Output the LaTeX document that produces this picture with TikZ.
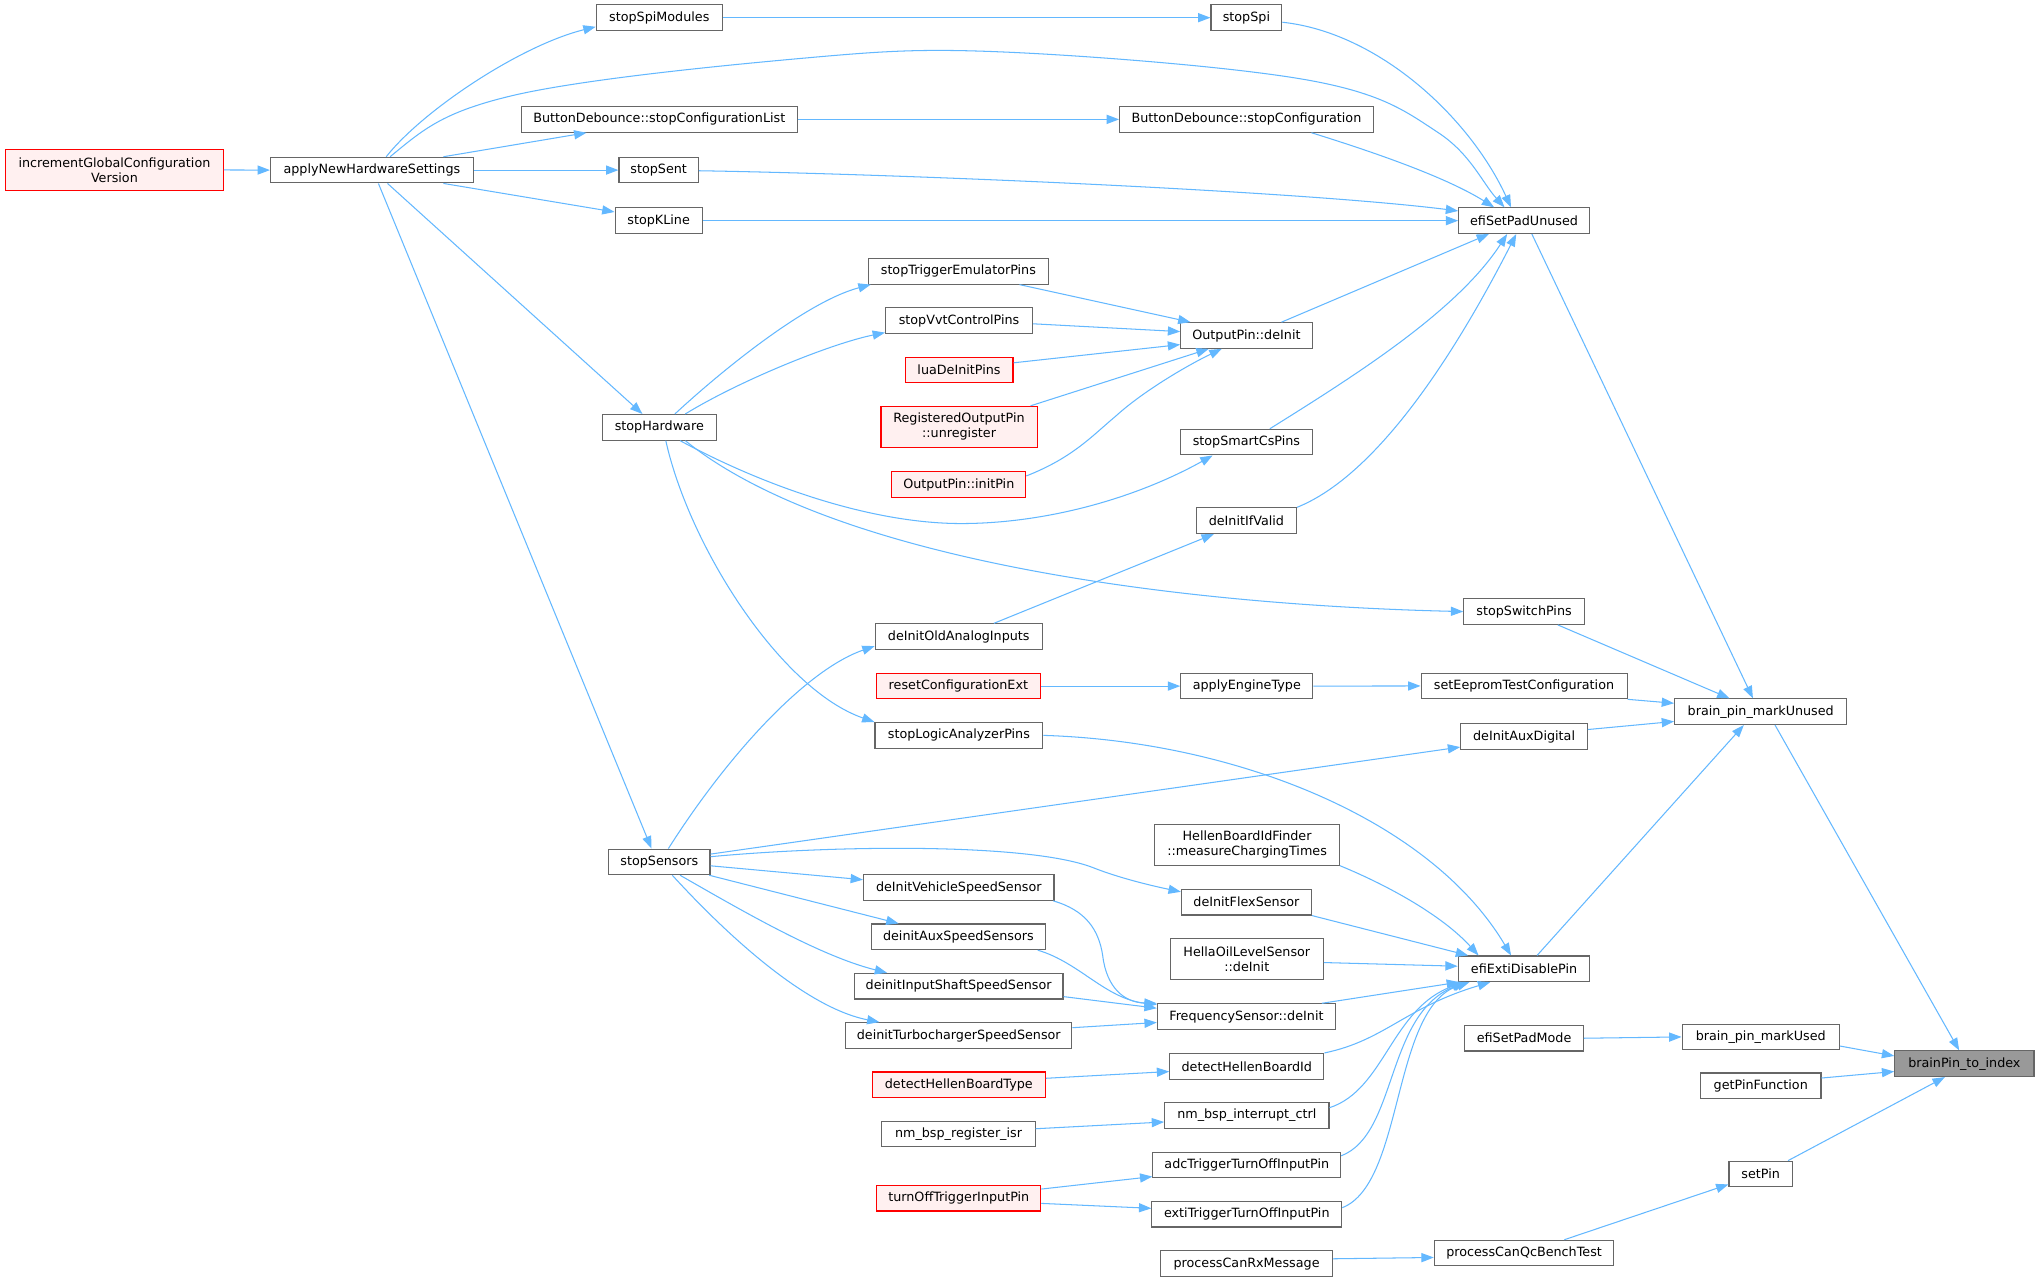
\documentclass[tikz,border=0pt]{standalone}
\usepackage{fontspec}
\setmainfont{DejaVu Sans}
\usetikzlibrary{arrows.meta,calc}
\definecolor{edgec}{HTML}{63B8FF}
\definecolor{ndb}{HTML}{666666}
\definecolor{rfill}{HTML}{FFF0F0}
\definecolor{curfill}{HTML}{999999}
\begin{document}
\begin{tikzpicture}[x=1pt,y=-1pt,
  nd/.style={draw=ndb, fill=white, line width=0.85pt, inner sep=0pt, minimum height=19.7pt,
    font=\fontsize{9.8}{11.3}\selectfont, align=center},
  rnd/.style={nd, draw=red, fill=rfill},
  cnd/.style={nd, fill=curfill},
  two/.style={minimum height=31.4pt},
  edg/.style={draw=edgec, line width=0.8pt, -{Triangle[length=9.5pt,width=7pt]}}]
\useasboundingbox (0,0) rectangle (1568,985);
\fill[white] (0,0) rectangle (1568,985);
% nodes
\node[rnd,two,minimum width=167.5pt] (ninc) at (88,130.7) {incrementGlobalConfiguration\\Version};
\node[nd,minimum width=156pt] (nanhs) at (286,130.8) {applyNewHardwareSettings};
\node[nd,minimum width=97pt] (nssm) at (507,13.6) {stopSpiModules};
\node[nd,minimum width=212pt] (nbdl) at (507,91.8) {ButtonDebounce::stopConfigurationList};
\node[nd,minimum width=61pt] (nsent) at (506.5,130.8) {stopSent};
\node[nd,minimum width=67pt] (nkl) at (506.5,169.7) {stopKLine};
\node[nd,minimum width=88pt] (nsh) at (507,328.6) {stopHardware};
\node[nd,minimum width=78pt] (nss) at (507,662.8) {stopSensors};
\node[nd,minimum width=54.5pt] (nspi) at (958.5,13.6) {stopSpi};
\node[nd,minimum width=195pt] (nbdc) at (958.5,91.8) {ButtonDebounce::stopConfiguration};
\node[nd,minimum width=100.5pt] (nesp) at (1172,169.7) {efiSetPadUnused};
\node[nd,minimum width=138pt] (ntep) at (737,208.6) {stopTriggerEmulatorPins};
\node[nd,minimum width=113pt] (nvvt) at (737.5,246.5) {stopVvtControlPins};
\node[rnd,minimum width=83pt] (nlua) at (737.5,284.6) {luaDeInitPins};
\node[rnd,two,minimum width=120pt] (nreg) at (737.5,328.2) {RegisteredOutputPin\\::unregister};
\node[rnd,minimum width=103pt] (nopi) at (737.3,372.7) {OutputPin::initPin};
\node[nd,minimum width=101pt] (nopd) at (958.5,258) {OutputPin::deInit};
\node[nd,minimum width=101pt] (nscs) at (958.5,340) {stopSmartCsPins};
\node[nd,minimum width=77pt] (ndiv) at (958.5,400.4) {deInitIfValid};
\node[nd,minimum width=92.7pt] (nssw) at (1172,470.3) {stopSwitchPins};
\node[nd,minimum width=128.6pt] (noai) at (737.3,489.6) {deInitOldAnalogInputs};
\node[rnd,minimum width=126pt] (nrce) at (737,527.6) {resetConfigurationExt};
\node[nd,minimum width=101.6pt] (naet) at (958.8,527.6) {applyEngineType};
\node[nd,minimum width=158.4pt] (netc) at (1172,527.5) {setEepromTestConfiguration};
\node[nd,minimum width=97.4pt] (nad) at (1172,566.5) {deInitAuxDigital};
\node[nd,minimum width=132.4pt] (nbpu) at (1354,547.3) {brain\_pin\_markUnused};
\node[nd,minimum width=129pt] (nlap) at (737.4,565.5) {stopLogicAnalyzerPins};
\node[nd,two,minimum width=142pt] (nhbf) at (959,649.6) {HellenBoardIdFinder\\::measureChargingTimes};
\node[nd,minimum width=146.5pt] (nvss) at (737.3,682.5) {deInitVehicleSpeedSensor};
\node[nd,minimum width=100pt] (nfs) at (958.5,693.8) {deInitFlexSensor};
\node[nd,minimum width=134pt] (nass) at (737,720.4) {deinitAuxSpeedSensors};
\node[nd,two,minimum width=117.7pt] (nhol) at (958.8,737.7) {HellaOilLevelSensor\\::deInit};
\node[nd,minimum width=101.2pt] (nedp) at (1172,745) {efiExtiDisablePin};
\node[nd,minimum width=160.5pt] (niss) at (737.2,758.4) {deinitInputShaftSpeedSensor};
\node[nd,minimum width=137pt] (nfsd) at (958.5,781.8) {FrequencySensor::deInit};
\node[nd,minimum width=173.8pt] (ntss) at (737.3,796.3) {deinitTurbochargerSpeedSensor};
\node[nd,minimum width=91pt] (nspm) at (1172,798.4) {efiSetPadMode};
\node[nd,minimum width=121pt] (nbpd) at (1354,797.4) {brain\_pin\_markUsed};
\node[cnd,minimum width=107pt] (nbpi) at (1510.6,818) {brainPin\_to\_index};
\node[nd,minimum width=92.6pt] (ngpf) at (1354,835) {getPinFunction};
\node[nd,minimum width=118.5pt] (nhbi) at (958.8,820) {detectHellenBoardId};
\node[rnd,minimum width=133pt] (nhbt) at (737.3,834.2) {detectHellenBoardType};
\node[nd,minimum width=126.4pt] (nbic) at (958.8,857.8) {nm\_bsp\_interrupt\_ctrl};
\node[nd,minimum width=117.8pt] (nbri) at (737.1,872) {nm\_bsp\_register\_isr};
\node[nd,minimum width=144.4pt] (nadc) at (958.8,895.8) {adcTriggerTurnOffInputPin};
\node[rnd,minimum width=126pt] (ntot) at (737.3,921.4) {turnOffTriggerInputPin};
\node[nd,minimum width=146pt] (nexti) at (958.8,933.7) {extiTriggerTurnOffInputPin};
\node[nd,minimum width=48.8pt] (nsetp) at (1354,902.8) {setPin};
\node[nd,minimum width=138pt] (nqbt) at (1172,963.6) {processCanQcBenchTest};
\node[nd,minimum width=132.3pt] (nrxm) at (958.6,971.8) {processCanRxMessage};
% edges
\draw[edg] (ninc.east) -- (nanhs.west);
\draw[edg] ($(nanhs.north)+(11,0)$) .. controls (325,85) and (400,35) .. ($(nssm.west)+(0,7)$);
\draw[edg] ($(nanhs.north)+(14,0)$) .. controls (325,100) and (339.5,86.7) .. (392,74)
  .. controls (444.5,61.3) and (551.7,50.7) .. (615,45)
  .. controls (678.3,39.3) and (706.5,37.2) .. (772,40)
  .. controls (837.5,42.8) and (952.3,51.7) .. (1008,62)
  .. controls (1063.7,72.3) and (1081.2,85.7) .. (1106,102)
  .. controls (1130.8,118.3) and (1140,140.7) .. ($(nesp.north)+(-15,0)$);
\draw[edg] ($(nanhs.north)+(55,0)$) -- ($(nbdl.south)+(-56,0)$);
\draw[edg] (nanhs.east) -- (nsent.west);
\draw[edg] ($(nanhs.south)+(55,0)$) -- ($(nkl.west)+(0,-6.7)$);
\draw[edg] ($(nanhs.south)+(12,0)$) -- ($(nsh.north)+(-13,0)$);
\draw[edg] ($(nanhs.south)+(5,0)$) -- ($(nss.north)+(-6,0)$);
\draw[edg] (nssm.east) -- (nspi.west);
\draw[edg] (nbdl.east) -- (nbdc.west);
\draw[edg] ($(nsent.east)+(0,0.5)$) .. controls (700,134) and (1000,147) .. ($(nesp.west)+(0,-7.5)$);
\draw[edg] (nkl.east) -- (nesp.west);
\draw[edg] ($(nspi.east)+(0,3.5)$) .. controls (1060,25) and (1130,90) .. ($(nesp.north)+(-10,0)$);
\draw[edg] ($(nbdc.south)+(50,0)$) .. controls (1050,115) and (1110,135) .. ($(nesp.north)+(-23,0)$);
\draw[edg] ($(nopd.north)+(27,0)$) -- ($(nesp.south)+(-27,0)$);
\draw[edg] ($(nscs.north)+(18,0)$) .. controls (1040,290) and (1120,240) .. ($(nesp.south)+(-13,0)$);
\draw[edg] (ndiv.north east) .. controls (1060,365) and (1120,270) .. ($(nesp.south)+(-6,0)$);
\draw[edg] ($(nesp.south)+(6,0)$) -- ($(nbpu.north)+(-6,0)$);
\draw[edg] ($(nsh.north)+(12,0)$) .. controls (555,285) and (620,232) .. ($(ntep.south west)+(2,0)$);
\draw[edg] ($(nsh.north)+(20,0)$) .. controls (570,292) and (640,264) .. ($(nvvt.south west)+(0,-1)$);
\draw[edg] ($(nsh.south)+(16,0)$) .. controls (590,375) and (670,402) .. (737,402.6)
  .. controls (800,403) and (870,385) .. ($(nscs.south)+(-26,0)$);
\draw[edg] ($(nsh.south)+(20,0)$) .. controls (640,430) and (900,465) .. (nssw.west);
\draw[edg] ($(nsh.south)+(5,0)$) .. controls (530,420) and (600,530) .. (nlap.north west);
\draw[edg] ($(ntep.south)+(47,0)$) -- ($(nopd.north)+(-43,0)$);
\draw[edg] ($(nvvt.east)+(0,2.5)$) -- ($(nopd.west)+(0,-3)$);
\draw[edg] ($(nlua.east)+(0,-5.6)$) -- ($(nopd.west)+(0,7)$);
\draw[edg] ($(nreg.north)+(55,0)$) -- ($(nopd.south)+(-29,0)$);
\draw[edg] ($(nopi.east)+(0,-6.7)$) .. controls (825,352) and (840,335) .. (858,320)
  .. controls (880,300) and (915,280) .. ($(nopd.south)+(-19,0)$);
\draw[edg] ($(nss.north)+(7,0)$) .. controls (560,580) and (620,515) .. ($(noai.south west)+(0,-3)$);
\draw[edg] ($(noai.north)+(27,0)$) -- ($(ndiv.south)+(-25,0)$);
\draw[edg] ($(nssw.south)+(26,0)$) -- ($(nbpu.north)+(-24,0)$);
\draw[edg] (nrce.east) -- (naet.west);
\draw[edg] (naet.east) -- (netc.west);
\draw[edg] (netc.south east) -- ($(nbpu.west)+(0,-6.5)$);
\draw[edg] ($(nad.east)+(0,-5.5)$) -- ($(nbpu.west)+(0,7.5)$);
\draw[edg] ($(nss.east)+(0,-6)$) -- ($(nad.west)+(0,8)$);
\draw[edg] (nlap.east) .. controls (950,570) and (1100,630) .. ($(nedp.north)+(-10,0)$);
\draw[edg] ($(nedp.north)+(10,0)$) -- ($(nbpu.south)+(-13,0)$);
\draw[edg] ($(nbpu.south)+(11,0)$) -- ($(nbpi.north)+(-4,0)$);
\draw[edg] ($(nss.east)+(0,-4)$) .. controls (640,650) and (790,648) .. (840,667)
  .. controls (860,675) and (885,681) .. ($(nfs.west)+(0,-8)$);
\draw[edg] ($(nss.east)+(0,3)$) -- ($(nvss.west)+(0,-6)$);
\draw[edg] ($(nss.south east)+(-1,0)$) -- ($(nass.north)+(-46,0)$);
\draw[edg] ($(nss.south)+(16,0)$) .. controls (570,700) and (630,735) .. ($(niss.north)+(-55,0)$);
\draw[edg] ($(nss.south)+(10,0)$) .. controls (560,720) and (620,775) .. ($(ntss.north)+(-61,0)$);
\draw[edg] ($(nvss.south east)+(-1,0)$) .. controls (835,700) and (845,715) .. (848,735)
  .. controls (851,760) and (865,771) .. (nfsd.north west);
\draw[edg] ($(nass.south)+(61,0)$) .. controls (830,740) and (850,768) .. ($(nfsd.north west)+(0,1)$);
\draw[edg] ($(niss.east)+(0,8)$) -- ($(nfsd.west)+(0,-6.5)$);
\draw[edg] ($(ntss.east)+(0,-6)$) -- ($(nfsd.west)+(0,4.5)$);
\draw[edg] (nhbf.south east) .. controls (1070,682) and (1110,705) .. ($(nedp.north)+(-35,0)$);
\draw[edg] (nfs.south east) -- ($(nedp.north)+(-43,0)$);
\draw[edg] ($(nhol.east)+(0,2.5)$) -- ($(nedp.west)+(0,-2)$);
\draw[edg] ($(nfsd.north)+(58,0)$) -- ($(nedp.south west)+(1,0)$);
\draw[edg] (nhbi.north east) .. controls (1065,800) and (1080,775) .. ($(nedp.south)+(-26,0)$);
\draw[edg] ($(nbic.east)+(0,-6)$) .. controls (1065,838) and (1070,775) .. ($(nedp.south)+(-46,0)$);
\draw[edg] ($(nadc.east)+(0,-7)$) .. controls (1075,872) and (1065,780) .. ($(nedp.south)+(-45,0)$);
\draw[edg] ($(nexti.east)+(0,-5)$) .. controls (1080,910) and (1070,775) .. ($(nedp.south)+(-42,0)$);
\draw[edg] ($(nhbt.east)+(0,-5)$) -- ($(nhbi.west)+(0,4)$);
\draw[edg] ($(nbri.east)+(0,-4)$) -- ($(nbic.west)+(0,5)$);
\draw[edg] ($(ntot.east)+(0,-7)$) -- ($(nadc.west)+(0,9)$);
\draw[edg] ($(ntot.east)+(0,4)$) -- ($(nexti.west)+(0,-4.5)$);
\draw[edg] (nspm.east) -- (nbpd.west);
\draw[edg] ($(nbpd.east)+(0,7)$) -- ($(nbpi.west)+(0,-6)$);
\draw[edg] ($(ngpf.east)+(0,-6)$) -- ($(nbpi.west)+(0,6)$);
\draw[edg] ($(nsetp.north)+(21,0)$) -- ($(nbpi.south)+(-15,0)$);
\draw[edg] ($(nqbt.north)+(31,0)$) -- ($(nsetp.west)+(0,8)$);
\draw[edg] ($(nrxm.east)+(0,-3.8)$) -- ($(nqbt.west)+(0,3.4)$);
\end{tikzpicture}
\end{document}
